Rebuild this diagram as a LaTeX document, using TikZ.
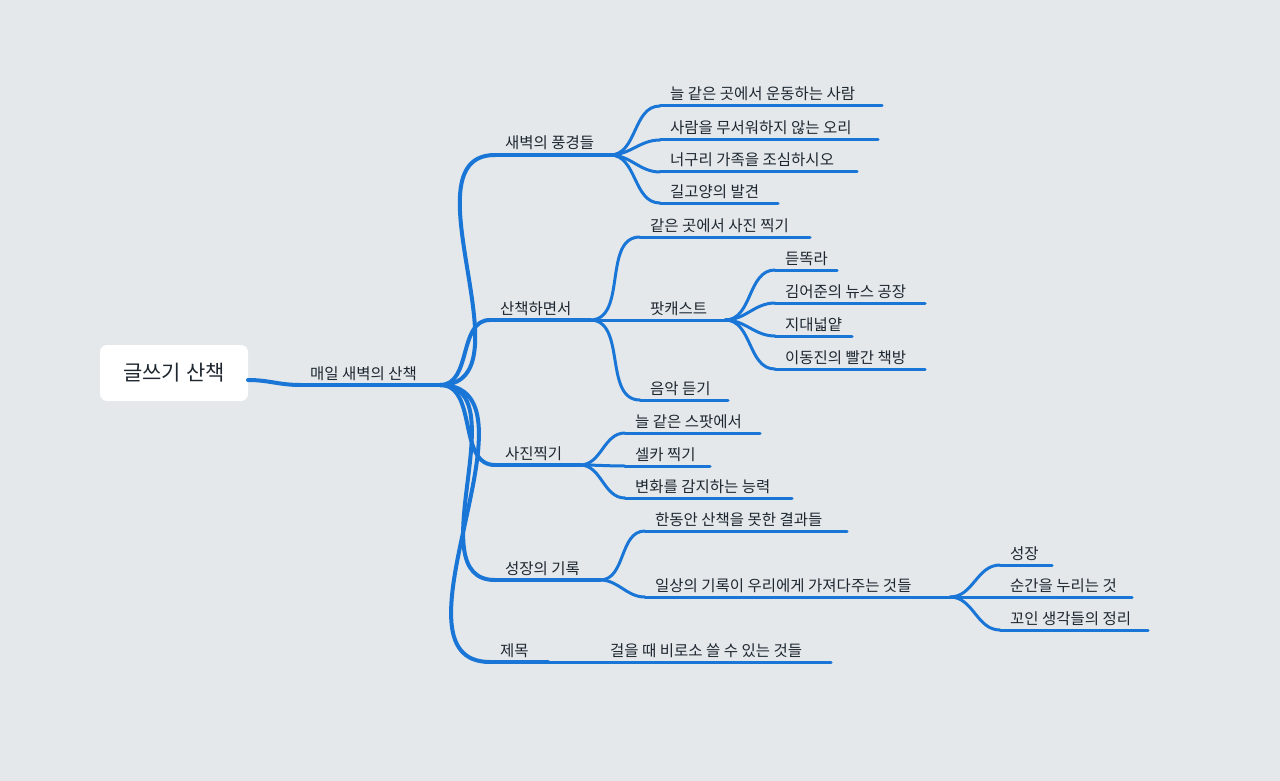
\documentclass[tikz,border=0pt]{standalone}
\usepackage{fontspec}
\setmainfont{Noto Sans CJK KR}
\usetikzlibrary{calc}
\definecolor{bg}{HTML}{E4E8EB}
\definecolor{ln}{HTML}{1A76D6}
\definecolor{tx}{HTML}{1E2730}
\tikzset{
 lnk/.style={draw=ln,line width=3pt,line cap=round},
 lnkthick/.style={draw=ln,line width=4pt,line cap=round},
 lbl/.style={text=tx,font=\fontsize{15.5}{18}\selectfont,inner sep=0pt,anchor=base west}
}
\newcommand{\br}[6][lnk]{%
 \coordinate (#2-s) at (#3,#5);
 \coordinate (#2-e) at (#4,#5);
 \node[lbl] (#2) at ({#3+10},{#5-6}) {#6};
 \draw[#1] (#2-s) -- (#2-e);
}
\begin{document}
\begin{tikzpicture}[x=1pt,y=-1pt]
\fill[bg] (0,0) rectangle (1280,781);
\useasboundingbox (0,0) rectangle (1280,781);
\node[fill=white,rounded corners=7pt,minimum width=148pt,minimum height=56pt,text=tx,font=\fontsize{21}{24}\selectfont] (root) at (174,373) {글쓰기 산책};
\coordinate (root-out) at (248,380);
\br[lnkthick]{m}{300}{440}{385}{매일 새벽의 산책}
\draw[lnkthick] (root-out) to[out=0,in=180] (m-s);
% level 2
\br[lnkthick]{a}{495}{610}{155}{새벽의 풍경들}
\br[lnkthick]{b}{490}{590}{320}{산책하면서}
\br[lnkthick]{c}{495}{580}{465}{사진찍기}
\br[lnkthick]{d}{495}{600}{580}{성장의 기록}
\br[lnkthick]{e}{490}{548}{662}{제목}
\foreach \n in {a,b,c,d,e} \draw[lnkthick] (m-e) to[out=0,in=180] (\n-s);
% a
\br{a1}{660}{882}{106}{늘 같은 곳에서 운동하는 사람}
\br{a2}{660}{878}{140}{사람을 무서워하지 않는 오리}
\br{a3}{660}{857}{172}{너구리 가족을 조심하시오}
\br{a4}{660}{778}{203}{길고양의 발견}
\foreach \n in {a1,a2,a3,a4} \draw[lnk] (a-e) to[out=0,in=180] (\n-s);
% b
\br{b1}{640}{810}{237}{같은 곳에서 사진 찍기}
\br{b2}{640}{725}{320}{팟캐스트}
\br{b3}{640}{728}{400}{음악 듣기}
\foreach \n in {b1,b2,b3} \draw[lnk] (b-e) to[out=0,in=180] (\n-s);
\br{p1}{775}{837}{270}{듣똑라}
\br{p2}{775}{925}{303}{김어준의 뉴스 공장}
\br{p3}{775}{852}{336}{지대넓얕}
\br{p4}{775}{925}{369}{이동진의 빨간 책방}
\foreach \n in {p1,p2,p3,p4} \draw[lnk] (b2-e) to[out=0,in=180] (\n-s);
% c
\br{c1}{625}{760}{433}{늘 같은 스팟에서}
\br{c2}{625}{710}{466}{셀카 찍기}
\br{c3}{625}{792}{498}{변화를 감지하는 능력}
\foreach \n in {c1,c2,c3} \draw[lnk] (c-e) to[out=0,in=180] (\n-s);
% d
\br{d1}{645}{847}{531}{한동안 산책을 못한 결과들}
\br{d2}{645}{950}{597}{일상의 기록이 우리에게 가져다주는 것들}
\foreach \n in {d1,d2} \draw[lnk] (d-e) to[out=0,in=180] (\n-s);
\br{g1}{1000}{1052}{565}{성장}
\br{g2}{1000}{1132}{597}{순간을 누리는 것}
\br{g3}{1000}{1148}{630}{꼬인 생각들의 정리}
\foreach \n in {g1,g2,g3} \draw[lnk] (d2-e) to[out=0,in=180] (\n-s);
% e
\br{e1}{600}{831}{662}{걸을 때 비로소 쓸 수 있는 것들}
\draw[lnk] (e-e) -- (e1-s);
\end{tikzpicture}
\end{document}
